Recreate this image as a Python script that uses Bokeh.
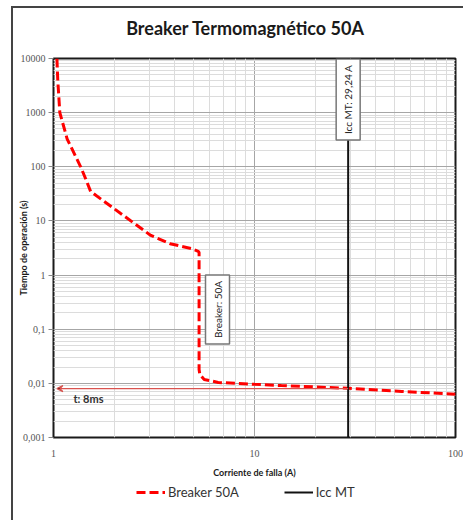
from bokeh.plotting import figure
from bokeh.layouts import column
from bokeh.models import (Range1d, FixedTicker, Label, Arrow, VeeHead, Legend, LegendItem)
from bokeh.embed import file_html
from bokeh.resources import INLINE
import math

# ---- data ----
breaker_I = [1.04, 1.05, 1.075, 1.17, 1.365, 1.445, 1.53, 2.16, 3.05, 3.8, 4.84, 5.25, 5.3, 5.3,
             5.35, 5.62, 6.6, 10, 13.6, 29.24, 54, 100]
breaker_t = [10000, 4000, 1000, 325, 100, 60, 35, 13.7, 5.4, 3.8, 3.1, 2.75, 2.6, 0.018,
             0.0145, 0.0118, 0.0104, 0.0096, 0.0091, 0.0081, 0.0071, 0.0063]
icc_I = [29.24, 29.24]
icc_t = [0.001, 10000]
trip_time = 0.008
arrow_from = 29.24
arrow_to = 1.04

x_major = [1, 10, 100]
x_minor = [2, 3, 4, 5, 6, 7, 8, 9, 20, 30, 40, 50, 60, 70, 80, 90]
y_major = [0.001, 0.01, 0.1, 1, 10, 100, 1000, 10000]
y_labels = ["0,001", "0,01", "0,1", "1", "10", "100", "1000", "10000"]
x_labels = ["1", "10", "100"]

title_text = "Breaker Termomagnético 50A"
x_title = "Corriente de falla (A)"
y_title = "Tiempo de operación (s)"
series_names = ["Breaker 50A", "Icc MT"]

FONT = "Lato"
BR_STYLE = dict(line_color="#ff0000", line_width=3, line_dash="9 4")
ICC_STYLE = dict(line_color="#111111", line_width=2)


def strip(height):
    f = figure(width=450, height=height, x_range=Range1d(0, 1), y_range=Range1d(0, 1),
               output_backend="svg", toolbar_location=None,
               x_axis_location=None, y_axis_location=None,
               min_border_left=0, min_border_right=0, min_border_top=0, min_border_bottom=0)
    f.grid.visible = False
    f.outline_line_color = None
    f.background_fill_color = "white"
    f.border_fill_color = "white"
    return f


# ---- title strip ----
ttl = strip(40)
ttl.add_layout(Label(x=192, y=21, x_units="screen", y_units="screen", text=title_text,
                     text_font=FONT, text_font_style="bold", text_font_size="18px",
                     text_align="center", text_baseline="middle", text_color="#1a1a1a"))

# ---- main chart ----
fig = figure(width=450, height=432, x_axis_type="log", y_axis_type="log",
             x_range=Range1d(1, 100), y_range=Range1d(0.001, 10000),
             output_backend="svg", toolbar_location=None,
             min_border_left=40, min_border_right=8, min_border_top=10, min_border_bottom=40)
fig.background_fill_color = "white"
fig.border_fill_color = "white"
fig.outline_line_color = "#1a1a1a"
fig.outline_line_width = 2

y_minor = []
for d in y_major[:-1]:
    for k in range(2, 10):
        y_minor.append(d * k)

fig.xaxis.ticker = FixedTicker(ticks=x_major, minor_ticks=x_minor)
fig.yaxis.ticker = FixedTicker(ticks=y_major, minor_ticks=y_minor)
fig.xaxis.major_label_overrides = {v: s for v, s in zip(x_major, x_labels)}
fig.yaxis.major_label_overrides = {v: s for v, s in zip(y_major, y_labels)}

for ax in (fig.xaxis, fig.yaxis):
    ax.axis_line_color = None
    ax.minor_tick_line_color = None
    ax.major_label_text_font = "Liberation Serif"
    ax.major_label_text_font_size = "10px"
    ax.major_label_text_color = "#555555"
    ax.axis_label_text_font = FONT
    ax.axis_label_text_font_style = "bold"
    ax.axis_label_text_font_size = "9px"
    ax.axis_label_text_color = "#1a1a1a"
fig.xaxis.axis_label = x_title
fig.yaxis.axis_label = y_title
fig.xaxis.major_tick_line_color = None
fig.xaxis.major_tick_out = 0
fig.xaxis.major_label_standoff = 8
fig.xaxis.axis_label_standoff = 7
fig.yaxis.major_tick_out = 5
fig.yaxis.major_tick_in = 0
fig.yaxis.major_tick_line_color = "#888888"
fig.yaxis.major_label_standoff = 3
fig.yaxis.axis_label_standoff = -11

fig.xgrid.grid_line_color = "#a6a6a6"
fig.ygrid.grid_line_color = "#a6a6a6"
fig.xgrid.minor_grid_line_color = "#dcdcdc"
fig.ygrid.minor_grid_line_color = "#dcdcdc"

# red trip-time arrow
fig.add_layout(Arrow(end=VeeHead(size=6, line_color="#d9534f", line_width=1.2),
                     x_start=arrow_from, y_start=trip_time, x_end=arrow_to, y_end=trip_time,
                     line_color="#d9534f", line_width=1.2))

fig.line(breaker_I, breaker_t, **BR_STYLE)
fig.line(icc_I, icc_t, **ICC_STYLE)

fig.add_layout(Label(x=20, y=39, x_units="screen", y_units="screen", text="t: 8ms",
                     text_font=FONT, text_font_style="bold", text_font_size="11px",
                     text_align="left", text_baseline="middle", text_color="#333333"))
fig.add_layout(Label(x=29.24, y=338, x_units="data", y_units="screen", text="Icc MT: 29,24 A",
                     angle=math.pi / 2, text_font=FONT, text_font_size="10px",
                     text_align="center", text_baseline="middle", text_color="#222222",
                     background_fill_color="white", border_line_color="#777777",
                     border_line_width=1.5, padding=6))
fig.add_layout(Label(x=164, y=128, x_units="screen", y_units="screen", text="Breaker: 50A",
                     angle=math.pi / 2, text_font=FONT, text_font_size="10px",
                     text_align="center", text_baseline="middle", text_color="#222222",
                     background_fill_color="white", border_line_color="#777777",
                     border_line_width=1.5, padding=6))

# ---- legend strip (series drawn outside its visible range; only the legend shows) ----
leg = strip(40)
lr_br = leg.line(breaker_I, breaker_t, **BR_STYLE)
lr_icc = leg.line(icc_I, icc_t, **ICC_STYLE)
legend = Legend(items=[LegendItem(label=series_names[0], renderers=[lr_br]),
                       LegendItem(label=series_names[1], renderers=[lr_icc])],
                location=(83, 20), orientation="horizontal", padding=0, margin=0,
                spacing=45, glyph_width=29, glyph_height=14, label_height=14,
                label_standoff=3, label_text_font=FONT, label_text_font_size="13px",
                label_text_color="#333333", border_line_color=None,
                background_fill_alpha=0)
leg.add_layout(legend)

p = column(ttl, fig, leg, spacing=0)
p.styles = {"border-left": "2px solid #444", "border-top": "2px solid #444",
            "margin-left": "11px", "margin-top": "6px"}

open("out.html", "w").write(file_html(p, INLINE))
